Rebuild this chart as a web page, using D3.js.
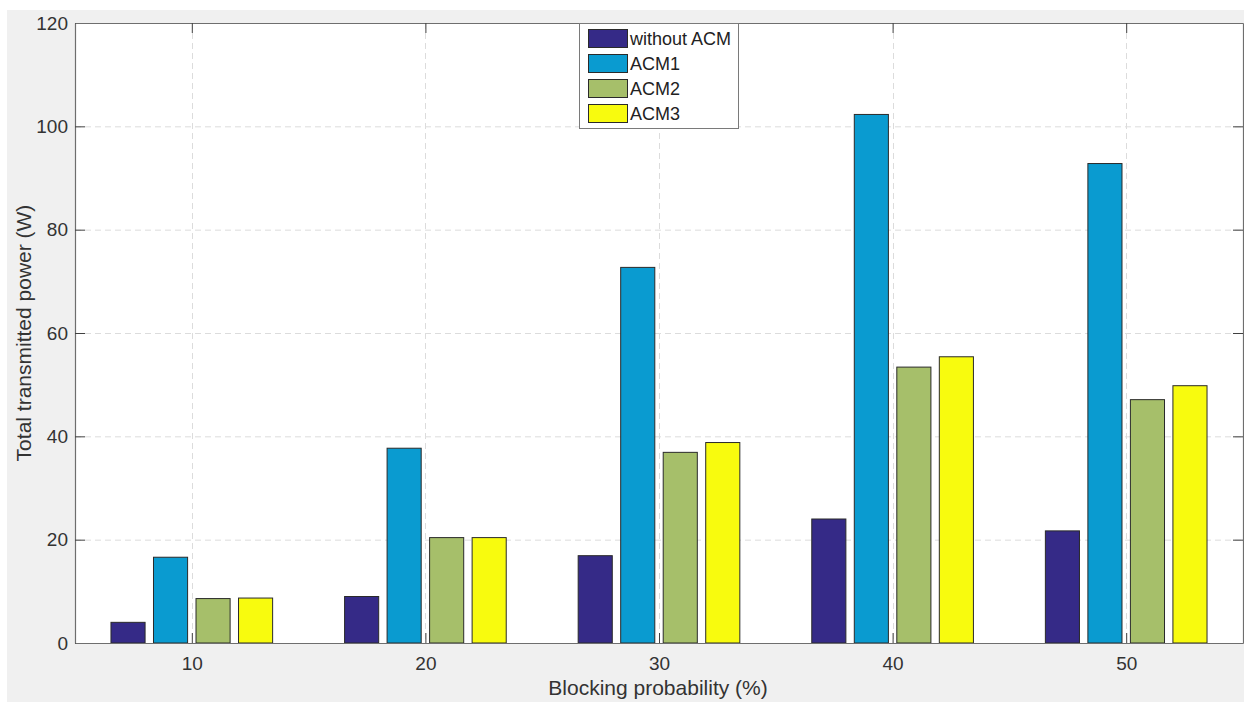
<!DOCTYPE html>
<html>
<head>
<meta charset="utf-8">
<script src="https://cdn.jsdelivr.net/npm/d3@7"></script>
<style>
  html, body { margin: 0; padding: 0; background: #fff; }
  svg { display: block; font-family: "Liberation Sans", Arial, sans-serif; }
</style>
</head>
<body>
<svg id="chart" width="1244" height="702"></svg>
<script>
// Blocking probability groups (%)
const categories = [10, 20, 30, 40, 50];
const seriesNames = ["without ACM", "ACM1", "ACM2", "ACM3"];
const withoutACM = [4.0, 9.0, 16.9, 24.0, 21.7];
const acm1 = [16.6, 37.7, 72.7, 102.3, 92.8];
const acm2 = [8.6, 20.4, 36.9, 53.4, 47.1];
const acm3 = [8.7, 20.4, 38.8, 55.4, 49.8];
const yTicks = [0, 20, 40, 60, 80, 100, 120];
const seriesColors = ["#352a87", "#0a9bd0", "#a6bf6a", "#f8fb0e"];

const series = [withoutACM, acm1, acm2, acm3];

const svg = d3.select("#chart");
const W = 1244, H = 702;
const plotL = 75, plotR = 1243, plotT = 23, plotB = 643;

// figure background
svg.append("rect").attr("x", 0).attr("y", 0).attr("width", W).attr("height", H).attr("fill", "#ffffff");
svg.append("rect").attr("x", 7).attr("y", 10).attr("width", W - 7).attr("height", H - 10).attr("fill", "#f0f0f0");
svg.append("rect").attr("x", plotL).attr("y", plotT).attr("width", plotR - plotL).attr("height", plotB - plotT).attr("fill", "#ffffff");

const x = d3.scaleLinear().domain([5, 55]).range([plotL, plotR]);
const y = d3.scaleLinear().domain([0, 120]).range([plotB, plotT]);

// dashed grid
const grid = svg.append("g").attr("stroke", "#dcdcdc").attr("stroke-width", 1).attr("stroke-dasharray", "6,4");
yTicks.forEach(t => {
  if (t === 0 || t === 120) return;
  grid.append("line").attr("x1", plotL).attr("x2", plotR).attr("y1", y(t) + 0.5).attr("y2", y(t) + 0.5);
});
categories.forEach(c => {
  grid.append("line").attr("x1", Math.round(x(c)) + 0.5).attr("x2", Math.round(x(c)) + 0.5).attr("y1", plotT).attr("y2", plotB);
});

// grouped bars
const step = 1.82, barW = 1.46;
const bars = svg.append("g");
series.forEach((vals, si) => {
  bars.selectAll(null).data(vals).enter().append("rect")
    .attr("x", (d, i) => x(categories[i] + (si - 1.5) * step - barW / 2))
    .attr("width", x(barW) - x(0))
    .attr("y", d => y(d))
    .attr("height", d => y(0) - y(d))
    .attr("fill", seriesColors[si])
    .attr("stroke", "#2a2a2a")
    .attr("stroke-width", 1);
});

// axes with inward ticks, boxed
const axisColor = "#6e6e6e";
const tickLen = 10;
const yAxis = svg.append("g").attr("transform", `translate(${plotL},0)`)
  .call(d3.axisLeft(y).tickValues(yTicks).tickSize(-tickLen).tickPadding(7).tickSizeOuter(0));
const yAxisR = svg.append("g").attr("transform", `translate(${plotR},0)`)
  .call(d3.axisRight(y).tickValues(yTicks).tickSize(-tickLen).tickFormat("").tickSizeOuter(0));
const xAxis = svg.append("g").attr("transform", `translate(0,${plotB})`)
  .call(d3.axisBottom(x).tickValues(categories).tickSize(-tickLen).tickPadding(14).tickSizeOuter(0));
const xAxisT = svg.append("g").attr("transform", `translate(0,${plotT})`)
  .call(d3.axisTop(x).tickValues(categories).tickSize(-tickLen).tickFormat("").tickSizeOuter(0));

[yAxis, yAxisR, xAxis, xAxisT].forEach(g => {
  g.select(".domain").attr("stroke", axisColor).attr("stroke-width", 1.2);
  g.selectAll(".tick line").attr("stroke", "#404040");
  g.selectAll(".tick text").attr("fill", "#333").attr("font-size", 19)
    .attr("font-family", "'Liberation Sans', Arial, sans-serif");
});

// axis labels
svg.append("text").attr("x", (plotL + plotR) / 2 - 1).attr("y", 695)
  .attr("text-anchor", "middle").attr("font-size", 21).attr("fill", "#333")
  .text("Blocking probability (%)");
svg.append("text").attr("transform", `translate(31,${(plotT + plotB) / 2}) rotate(-90)`)
  .attr("text-anchor", "middle").attr("font-size", 21).attr("fill", "#333")
  .text("Total transmitted power (W)");

// legend
const lg = svg.append("g").attr("transform", "translate(579,23)");
lg.append("rect").attr("x", 0.5).attr("y", 0.5).attr("width", 159).attr("height", 105)
  .attr("fill", "#fff").attr("stroke", "#7a7a7a");
seriesNames.forEach((name, i) => {
  const yy = 6 + i * 25;
  lg.append("rect").attr("x", 9.5).attr("y", yy + 0.5).attr("width", 39).attr("height", 18)
    .attr("fill", seriesColors[i]).attr("stroke", "#2a2a2a");
  lg.append("text").attr("x", 51).attr("y", yy + 16).attr("font-size", 18).attr("fill", "#222").text(name);
});
</script>
</body>
</html>
